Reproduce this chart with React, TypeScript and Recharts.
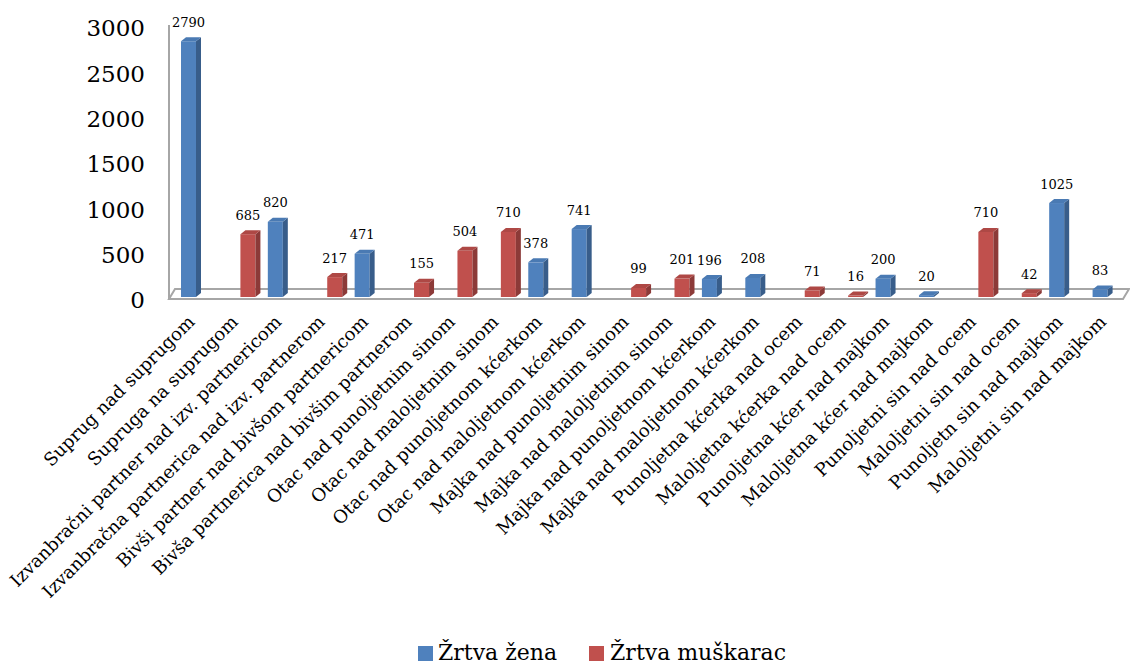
import React from 'react';
import { BarChart, Bar, XAxis, YAxis, Legend, Customized } from 'recharts';

const categories = [
  'Suprug nad suprugom',
  'Supruga na suprugom',
  'Izvanbračni partner nad izv. partnericom',
  'Izvanbračna partnerica nad izv. partnerom',
  'Bivši partner nad bivšom partnericom',
  'Bivša partnerica nad bivšim partnerom',
  'Otac nad punoljetnim sinom',
  'Otac nad maloljetnim sinom',
  'Otac nad punoljetnom kćerkom',
  'Otac nad maloljetnom kćerkom',
  'Majka nad punoljetnim sinom',
  'Majka nad maloljetnim sinom',
  'Majka nad punoljetnom kćerkom',
  'Majka nad maloljetnom kćerkom',
  'Punoljetna kćerka nad ocem',
  'Maloljetna kćerka nad ocem',
  'Punoljetna kćer nad majkom',
  'Maloljetna kćer nad majkom',
  'Punoljetni sin nad ocem',
  'Maloljetni sin nad ocem',
  'Punoljetn sin nad majkom',
  'Maloljetni sin nad majkom',
];

const zrtvaZena: (number | null)[] = [
  2790, null, 820, null, 471, null, null, null, 378, 741, null,
  null, 196, 208, null, null, 200, 20, null, null, 1025, 83,
];

const zrtvaMuskarac: (number | null)[] = [
  null, 685, null, 217, null, 155, 504, 710, null, null, 99,
  201, null, null, 71, 16, null, null, 710, 42, null, null,
];

const yTicks = [0, 500, 1000, 1500, 2000, 2500, 3000];

const seriesNames = ['Žrtva žena', 'Žrtva muškarac'];

const data = categories.map((name, i) => ({
  name,
  zena: zrtvaZena[i],
  muskarac: zrtvaMuskarac[i],
}));

const FONT = '"DejaVu Serif", serif';
const W = 1130;
const H = 663;
const PLOT_LEFT = 175;
const PLOT_TOP = 22;
const PLOT_BOTTOM = 297;
const XAXIS_H = 300;
const LEGEND_H = 26;
const DX = 5;
const DY = 4;

const BLUE = { front: '#4F81BD', side: '#385D8A', top: '#4A7AB3' };
const RED = { front: '#C0504D', side: '#8C3A38', top: '#AE4845' };

function make3DShape(colors: { front: string; side: string; top: string }, key: string) {
  return (props: any) => {
    const { x, y, width, height, payload } = props;
    const v = payload ? payload[key] : null;
    if (v === null || v === undefined) return null;
    const h = Math.max(height, 0.5);
    const yy = y + height - h;
    return (
      <g>
        <rect x={x} y={yy} width={width} height={h} fill={colors.front} />
        <polygon
          points={`${x + width},${yy} ${x + width + DX},${yy - DY} ${x + width + DX},${yy + h - DY} ${x + width},${yy + h}`}
          fill={colors.side}
        />
        <polygon
          points={`${x},${yy} ${x + DX},${yy - DY} ${x + width + DX},${yy - DY} ${x + width},${yy}`}
          fill={colors.top}
        />
        <text
          x={x + width / 2}
          y={yy - 14.5}
          textAnchor="middle"
          fontFamily={FONT}
          fontSize={13}
          fill="#000"
        >
          {v}
        </text>
      </g>
    );
  };
}

const Floor = () => {
  const stroke = '#A6A6A6';
  return (
    <g>
      <line x1={169} y1={25} x2={169} y2={300} stroke={stroke} strokeWidth={2} />
      <polygon
        points={`169,299 1123,299 1129,289 175,289`}
        fill="none"
        stroke={stroke}
        strokeWidth={2}
      />
    </g>
  );
};

const XTick = (props: any) => {
  const { x, payload } = props;
  const ax = x - 1;
  const ay = PLOT_BOTTOM + 26;
  return (
    <text
      x={ax}
      y={ay}
      transform={`rotate(-45 ${ax} ${ay})`}
      textAnchor="end"
      fontFamily={FONT}
      fontSize={18}
      fill="#000"
    >
      {payload.value}
    </text>
  );
};

const YTick = (props: any) => {
  const { y, payload } = props;
  const off = 11.4 + (3 * (PLOT_BOTTOM - y)) / (PLOT_BOTTOM - PLOT_TOP);
  return (
    <text x={145} y={y + off} textAnchor="end" fontFamily={FONT} fontSize={23} fill="#000">
      {payload.value}
    </text>
  );
};

const LegendContent = () => (
  <div
    style={{
      display: 'flex',
      alignItems: 'center',
      height: LEGEND_H,
      fontFamily: FONT,
      fontSize: 22,
      lineHeight: `${LEGEND_H}px`,
      whiteSpace: 'nowrap',
      color: '#000',
    }}
  >
    <span style={{ display: 'inline-block', width: 15, height: 15, background: BLUE.front, marginRight: 5 }} />
    <span style={{ marginRight: 32 }}>{seriesNames[0]}</span>
    <span style={{ display: 'inline-block', width: 15, height: 15, background: RED.front, marginRight: 6 }} />
    <span>{seriesNames[1]}</span>
  </div>
);

export default function App() {
  return (
    <div style={{ position: 'absolute', left: 0, top: 0, width: W, height: H, background: '#fff' }}>
      <BarChart
        width={W}
        height={H}
        data={data}
        margin={{ top: PLOT_TOP, right: 0, left: PLOT_LEFT - 60, bottom: H - PLOT_BOTTOM - XAXIS_H - LEGEND_H }}
        barSize={15}
        barGap={1}
      >
        <Customized component={<Floor />} />
        <XAxis
          dataKey="name"
          interval={0}
          axisLine={false}
          tickLine={false}
          height={XAXIS_H}
          tick={<XTick />}
        />
        <YAxis
          width={60}
          domain={[0, 3000]}
          ticks={yTicks}
          axisLine={false}
          tickLine={false}
          tick={<YTick />}
        />
        <Legend
          verticalAlign="bottom"
          content={<LegendContent />}
          wrapperStyle={{ position: 'absolute', left: 418, top: 640, bottom: 'auto', width: 'auto', height: LEGEND_H }}
        />
        <Bar dataKey="zena" name={seriesNames[0]} fill={BLUE.front} isAnimationActive={false} shape={make3DShape(BLUE, 'zena')} />
        <Bar dataKey="muskarac" name={seriesNames[1]} fill={RED.front} isAnimationActive={false} shape={make3DShape(RED, 'muskarac')} />
      </BarChart>
    </div>
  );
}
